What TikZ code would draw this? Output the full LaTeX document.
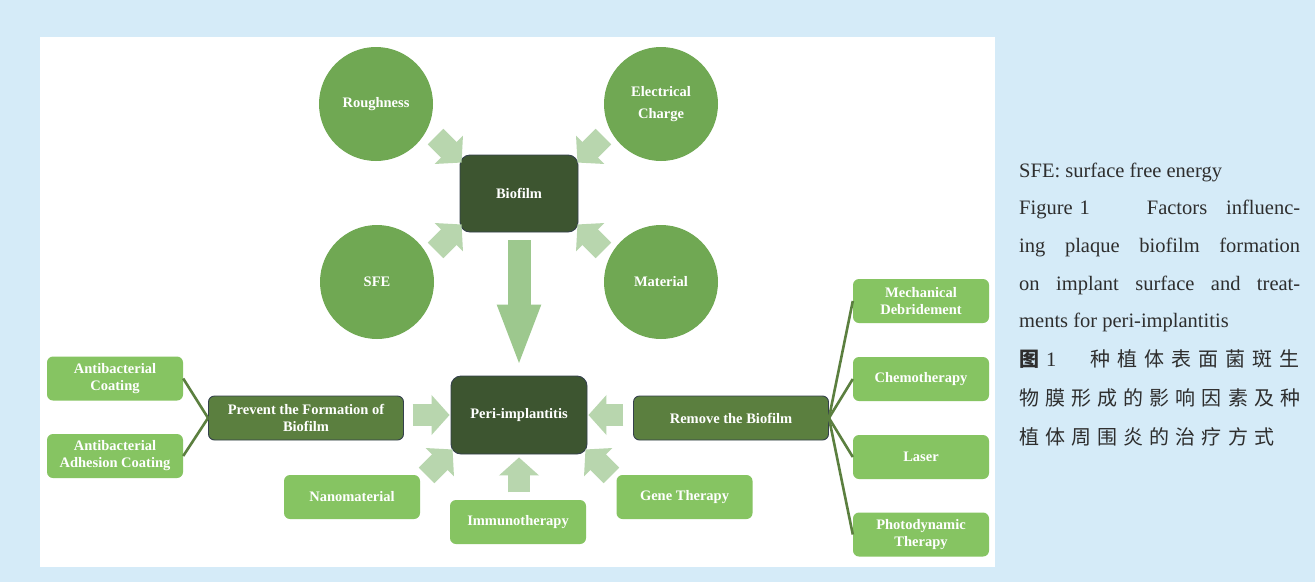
\documentclass[tikz,border=0pt]{standalone}
\usepackage{fontspec}
\usepackage{tikz}
\usetikzlibrary{arrows.meta,calc}
\newfontfamily\timesfont{Liberation Serif}
\newfontfamily\cjkfont{Noto Sans CJK SC}
\definecolor{bgblue}{HTML}{D5EBF8}
\definecolor{darkgreen}{HTML}{3D5530}
\definecolor{midgreen}{HTML}{5B7F3F}
\definecolor{circgreen}{HTML}{70A853}
\definecolor{lightgreen}{HTML}{86C462}
\definecolor{paleflow}{HTML}{B8D6AE}
\definecolor{mainflow}{HTML}{9DC88E}
\definecolor{edgeblue}{HTML}{34404C}
\definecolor{captext}{HTML}{2E2E2E}
\def\boxfont{\timesfont\bfseries\fontsize{14.5}{17}\selectfont}
\def\capfont{\timesfont\fontsize{20.5}{20}\selectfont}
\def\hanfont{\cjkfont\fontsize{20}{20}\selectfont}

\begin{document}
\begin{tikzpicture}[x=1pt, y=1pt,
		factor/.style={circle, fill=circgreen, minimum size=114pt, inner sep=0pt, text=white, align=center, font=\timesfont\bfseries\fontsize{14.5}{22}\selectfont},
		core/.style={rounded corners=10pt, fill=darkgreen, draw=edgeblue, line width=0.9pt, inner sep=0pt, text=white, align=center, font=\boxfont},
		branch/.style={rounded corners=6pt, fill=midgreen, draw=edgeblue, line width=0.9pt, minimum width=195pt, minimum height=44pt, inner sep=0pt, text=white, align=center, font=\boxfont},
		leaf/.style={rounded corners=6pt, fill=lightgreen, minimum width=136pt, minimum height=44pt, inner sep=0pt, text=white, align=center, font=\boxfont},
		fat/.style={paleflow, line width=22pt, -{Triangle[width=39pt, length=18pt]}},
		twig/.style={midgreen, line width=2.6pt},
		captxt/.style={anchor=base west, inner sep=0pt, text=captext, font=\capfont}
	]
		%%%%% START %%%%%
		
		\fill[bgblue] (0, 0) rectangle (1315, -582);
		\useasboundingbox (0, 0) rectangle (1315, -582);
		\fill[white] (40, -37) rectangle (995, -567);
		
		% factors
		\node[core, minimum width=118pt, minimum height=77pt] (bio) at (519, -193.5) {Biofilm};
		\node[factor] (rough) at (376, -104) {Roughness};
		\node[factor] (charge) at (661, -104) {Electrical\\Charge};
		\node[factor] (sfe) at (377, -282) {SFE};
		\node[factor] (mat) at (661, -282) {Material};
		
		\draw[fat] ([shift={(-24, 18)}]bio.north west) -- ([shift={(2, -8)}]bio.north west);
		\draw[fat] ([shift={(25, 18)}]bio.north east) -- ([shift={(-1, -8)}]bio.north east);
		\draw[fat] ([shift={(-24, -18)}]bio.south west) -- ([shift={(2, 8)}]bio.south west);
		\draw[fat] ([shift={(25, -18)}]bio.south east) -- ([shift={(-1, 8)}]bio.south east);
		
		% disease
		\node[core, minimum width=136pt, minimum height=78pt] (peri) at (519, -415) {Peri-implantitis};
		\draw[mainflow, line width=23pt, -{Triangle[width=39pt, length=63pt]}] ([yshift=-8]bio.south) -- ([yshift=8]peri.north);
		
		% prevention
		\node[branch] (prevent) at (306, -418) {Prevent the Formation of\\Biofilm};
		\node[leaf] (coat) at (115, -378.5) {Antibacterial\\Coating};
		\node[leaf] (adhesion) at (115, -456) {Antibacterial\\Adhesion Coating};
		\draw[twig] (prevent.west) -- (coat.east);
		\draw[twig] (prevent.west) -- (adhesion.east);
		
		% removal
		\node[branch] (remove) at (731, -418) {Remove the Biofilm};
		\node[leaf] (mech) at (921, -301) {Mechanical\\Debridement};
		\node[leaf] (chemo) at (921, -379) {Chemotherapy};
		\node[leaf] (laser) at (921, -457) {Laser};
		\node[leaf] (photo) at (921, -534.5) {Photodynamic\\Therapy};
		\draw[twig] (remove.east) -- (mech.west);
		\draw[twig] (remove.east) -- (chemo.west);
		\draw[twig] (remove.east) -- (laser.west);
		\draw[twig] (remove.east) -- (photo.west);
		
		% other treatments
		\node[leaf] (nano) at (352, -497) {Nanomaterial};
		\node[leaf] (immuno) at (518, -522) {Immunotherapy};
		\node[leaf] (gene) at (684.5, -497) {Gene Therapy};
		
		\draw[fat] ([xshift=-38]peri.west) -- ([xshift=-1]peri.west);
		\draw[fat] ([xshift=36]peri.east) -- ([xshift=1]peri.east);
		\draw[fat] ([shift={(-24, -21)}]peri.south west) -- ([shift={(2, 5)}]peri.south west);
		\draw[fat] ([shift={(24, -21)}]peri.south east) -- ([shift={(-2, 5)}]peri.south east);
		\draw[fat] ([yshift=-38]peri.south) -- ([yshift=-3]peri.south);
		
		% caption
		\node[captxt] (abbr) at (1019, -177) {SFE: surface free energy};
		\node[captxt] (en1) at (1019, -214) {\makebox[281pt][s]{Figure\hspace{7pt}1\hspace{24pt plus 3fil}Factors\hspace{8pt plus 1fil}influenc-}};
		\node[captxt] (en2) at (1019, -252) {\makebox[281pt][s]{ing plaque biofilm formation}};
		\node[captxt] (en3) at (1019, -290) {\makebox[281pt][s]{on implant surface and treat-}};
		\node[captxt] (en4) at (1019, -327) {ments for peri-implantitis};
		\node[captxt, font=\hanfont] (zh0) at (1019, -366) {{\bfseries 图}\hspace{7pt}{\capfont 1}};
		\node[captxt, font=\hanfont] (zh1) at (1090, -366) {\makebox[209pt][s]{种\hfill 植\hfill 体\hfill 表\hfill 面\hfill 菌\hfill 斑\hfill 生}};
		\node[captxt, font=\hanfont] (zh2) at (1019, -405) {\makebox[281pt][s]{物\hfill 膜\hfill 形\hfill 成\hfill 的\hfill 影\hfill 响\hfill 因\hfill 素\hfill 及\hfill 种}};
		\node[captxt, font=\hanfont] (zh3) at (1019, -444) {\makebox[255pt][s]{植\hfill 体\hfill 周\hfill 围\hfill 炎\hfill 的\hfill 治\hfill 疗\hfill 方\hfill 式}};
		
		%%%%% END %%%%%
	\end{tikzpicture}
\end{document}
